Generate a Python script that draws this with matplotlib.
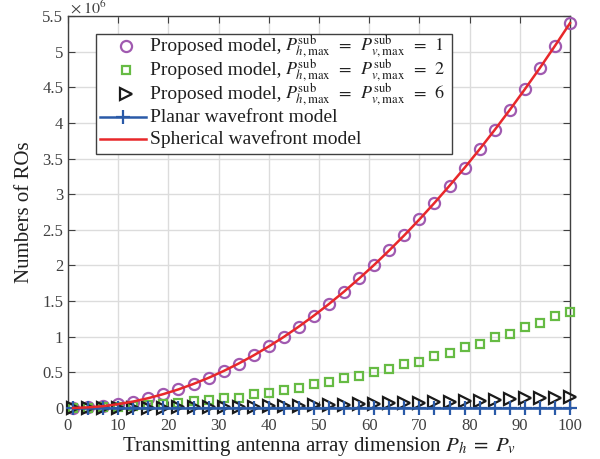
import numpy as np
import matplotlib
matplotlib.use("Agg")
import matplotlib.pyplot as plt
from matplotlib.patches import Rectangle

plt.rcParams['font.family'] = ['Liberation Serif', 'DejaVu Serif']
plt.rcParams['mathtext.fontset'] = 'stix'

# array dimension P_h = P_v where the models were evaluated
dims = [1, 4, 7, 10, 13, 16, 19, 22, 25, 28, 31, 34, 37, 40, 43, 46, 49,
        52, 55, 58, 61, 64, 67, 70, 73, 76, 79, 82, 85, 88, 91, 94, 97, 100]

# number of ROs, in units of 1e6
spherical = [0.000, 0.009, 0.026, 0.054, 0.091, 0.138, 0.195, 0.261, 0.338,
             0.423, 0.519, 0.624, 0.739, 0.864, 0.998, 1.143, 1.297, 1.460,
             1.634, 1.817, 2.009, 2.212, 2.424, 2.646, 2.878, 3.119, 3.370,
             3.631, 3.902, 4.182, 4.472, 4.771, 5.081, 5.400]
proposed_1 = spherical
proposed_2 = [0.000, 0.003, 0.010, 0.020, 0.028, 0.037, 0.056, 0.070, 0.093,
              0.108, 0.135, 0.145, 0.190, 0.215, 0.257, 0.276, 0.336, 0.365,
              0.420, 0.450, 0.510, 0.550, 0.620, 0.650, 0.730, 0.770, 0.860,
              0.900, 0.990, 1.040, 1.140, 1.190, 1.290, 1.342]
proposed_6 = [0.000, 0.000, 0.001, 0.002, 0.003, 0.004, 0.006, 0.008, 0.010,
              0.012, 0.015, 0.017, 0.021, 0.024, 0.028, 0.032, 0.038, 0.042,
              0.048, 0.052, 0.060, 0.064, 0.072, 0.076, 0.085, 0.090, 0.100,
              0.105, 0.118, 0.122, 0.135, 0.140, 0.147, 0.150]
planar = [0.0] * len(dims)

W, H = 600, 459
AX_L, AX_T, AX_W, AX_H = 68, 16, 502, 392

fig = plt.figure(figsize=(W / 100, H / 100), dpi=100)
ax = fig.add_axes([AX_L / W, 1 - (AX_T + AX_H) / H, AX_W / W, AX_H / H])

purple, green, black = '#a05ab0', '#66bb44', '#1a1a1a'
blue, red = '#2a5aa8', '#e8282a'

ax.plot(dims, proposed_1, 'o', ms=8, mfc='none', mec=purple, mew=1.6,
        clip_on=False, zorder=3)
ax.plot(dims, proposed_2, 's', ms=6.3, mfc='none', mec=green, mew=1.6,
        clip_on=False, zorder=3)
ax.plot(dims, proposed_6, '>', ms=8, mfc='none', mec=black, mew=1.6,
        clip_on=False, zorder=3)
ax.plot(dims, planar, '-+', color=blue, lw=1.8, ms=10, mew=1.6,
        clip_on=False, zorder=4)
ax.plot(dims, spherical, '-', color=red, lw=1.8, clip_on=False, zorder=5)

ax.set_xlim(0, 100)
ax.set_ylim(0, 5.5)
ax.set_xticks(np.arange(0, 101, 10))
ax.set_yticks(np.arange(0, 5.51, 0.5))
ax.set_yticklabels(['0', '0.5', '1', '1.5', '2', '2.5', '3', '3.5', '4',
                    '4.5', '5', '5.5'])
ax.grid(True, color='#dcdcdc', lw=1.0)
ax.set_axisbelow(True)
ax.tick_params(direction='in', length=5, labelsize=12, colors='#404040',
               top=True, right=True, labeltop=False, labelright=False)
ax.tick_params(axis='x', pad=7)
for s in ax.spines.values():
    s.set_color('#404040')
    s.set_linewidth(1.0)


# positions given in figure pixels -> axes fraction
def px(x, y):
    return (x - AX_L) / AX_W, 1 - (y - AX_T) / AX_H


ex, ey = px(70, 13.5)
ax.text(ex, ey, r'$\times\;10^{6}$', transform=ax.transAxes,
        fontsize=11.5, color='#404040', ha='left', va='baseline')

ax.set_xlabel(r'Transmitting antenna array dimension $P_h\;=\;P_v$',
              fontsize=15, color='#202020', labelpad=1)
ax.set_ylabel('Numbers of ROs', fontsize=15, color='#202020', labelpad=6)

# legend box laid out by hand
eq = (r"$P_{h,\mathrm{max}}^{\mathrm{sub}}\enspace=\enspace"
      r"P_{v,\mathrm{max}}^{\mathrm{sub}}\enspace=\enspace%d$")
entries = [
    ('marker', dict(marker='o', ms=8, mfc='none', mec=purple, mew=1.6), 1),
    ('marker', dict(marker='s', ms=6.3, mfc='none', mec=green, mew=1.6), 2),
    ('marker', dict(marker='>', ms=8, mfc='none', mec=black, mew=1.6), 6),
    ('line', dict(color=blue, lw=1.8, marker='+', ms=10, mew=1.6,
                  markevery=[1]), 'Planar wavefront model'),
    ('line', dict(color=red, lw=1.8), 'Spherical wavefront model'),
]
x0, y0 = px(96, 34)
x1, y1 = px(452, 154)
ax.add_patch(Rectangle((x0, y1), x1 - x0, y0 - y1, transform=ax.transAxes,
                       facecolor='white', edgecolor='#404040', lw=1.0,
                       zorder=10, clip_on=False))
rows = [46.5, 70.5, 94.5, 117, 139]
for (kind, style, what), yc in zip(entries, rows):
    tx, ty = px(150, yc + 5)
    if kind == 'marker':
        mx, my = px(126, yc)
        ax.plot([mx], [my], transform=ax.transAxes, ls='none', zorder=11,
                clip_on=False, **style)
        ax.text(tx, ty, 'Proposed model,', transform=ax.transAxes,
                fontsize=14, color='#202020', ha='left', va='baseline',
                zorder=12)
        qx, _ = px(285, 0)
        ax.text(qx, ty, eq % what, transform=ax.transAxes, fontsize=13,
                color='#202020', ha='left', va='baseline', zorder=12)
    else:
        la, ly = px(100, yc)
        lb, _ = px(146, yc)
        ax.plot([la, (la + lb) / 2, lb], [ly] * 3, transform=ax.transAxes,
                zorder=11, clip_on=False, **style)
        ax.text(tx, ty, what, transform=ax.transAxes, fontsize=14,
                color='#202020', ha='left', va='baseline', zorder=12)

plt.savefig("out.png", dpi=100)
